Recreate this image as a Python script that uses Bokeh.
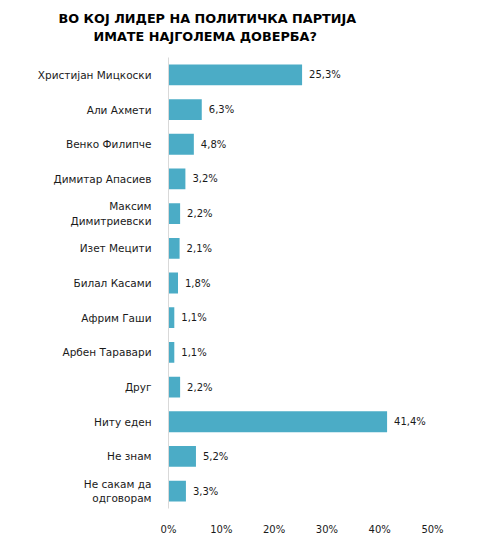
from bokeh.plotting import figure
from bokeh.models import ColumnDataSource, FactorRange, FixedTicker, CustomJSTickFormatter, Title
from bokeh.core.properties import value
from bokeh.embed import file_html
from bokeh.resources import INLINE

categories = ["Христијан Мицкоски", "Али Ахмети", "Венко Филипче", "Димитар Апасиев",
              "Максим\nДимитриевски", "Изет Мецити", "Билал Касами", "Африм Гаши",
              "Арбен Таравари", "Друг", "Ниту еден", "Не знам", "Не сакам да\nодговорам"]
values = [25.3, 6.3, 4.8, 3.2, 2.2, 2.1, 1.8, 1.1, 1.1, 2.2, 41.4, 5.2, 3.3]
value_labels = ["25,3%", "6,3%", "4,8%", "3,2%", "2,2%", "2,1%", "1,8%", "1,1%", "1,1%",
                "2,2%", "41,4%", "5,2%", "3,3%"]
x_ticks = [0, 10, 20, 30, 40, 50]
title_lines = ["ВО КОЈ ЛИДЕР НА ПОЛИТИЧКА ПАРТИЈА", "ИМАТЕ НАЈГОЛЕМА ДОВЕРБА?"]

FONT = "DejaVu Sans"
BAR = "#4BACC6"
TXT = "#1a1a1a"

src = ColumnDataSource(dict(cat=categories, val=values, lab=value_labels))

p = figure(width=478, height=542, output_backend="svg", toolbar_location=None, title=None,
           y_range=FactorRange(*reversed(categories)), x_range=(0, 50),
           min_border_left=168, min_border_right=46, min_border_top=57, min_border_bottom=34)
p.outline_line_color = None
p.grid.grid_line_color = None

p.hbar(y="cat", right="val", left=0, height=0.6, source=src, color=BAR, line_color=None)
p.text(x="val", y="cat", text="lab", source=src, x_offset=7, text_baseline="middle",
       text_align="left", text_font=value(FONT), text_font_size="10px", text_color=TXT)

p.xaxis.ticker = FixedTicker(ticks=x_ticks)
p.xaxis.formatter = CustomJSTickFormatter(code="return tick + '%';")
p.xaxis.axis_line_color = None
p.xaxis.major_tick_line_color = None
p.xaxis.minor_tick_line_color = None
p.xaxis.major_label_standoff = 9
p.xaxis.major_label_text_font = FONT
p.xaxis.major_label_text_font_size = "10px"
p.xaxis.major_label_text_color = TXT

p.yaxis.axis_line_color = "#D9D9D9"
p.yaxis.major_tick_line_color = None
p.yaxis.minor_tick_line_color = None
p.yaxis.major_label_standoff = 11
p.yaxis.major_label_text_font = FONT
p.yaxis.major_label_text_font_size = "10.5px"
p.yaxis.major_label_text_color = TXT

# titles: first added sits closest to the frame
p.add_layout(Title(text=" ", text_font_size="8px", standoff=0), "above")
p.add_layout(Title(text=title_lines[1], align="left", offset=-75, vertical_align="middle",
                   standoff=3, text_font=FONT, text_font_size="12.8px",
                   text_font_style="bold", text_color="#000000"), "above")
p.add_layout(Title(text=title_lines[0], align="left", offset=-110, vertical_align="middle",
                   standoff=0, text_font=FONT, text_font_size="12.8px",
                   text_font_style="bold", text_color="#000000"), "above")

open("out.html", "w").write(file_html(p, INLINE))
